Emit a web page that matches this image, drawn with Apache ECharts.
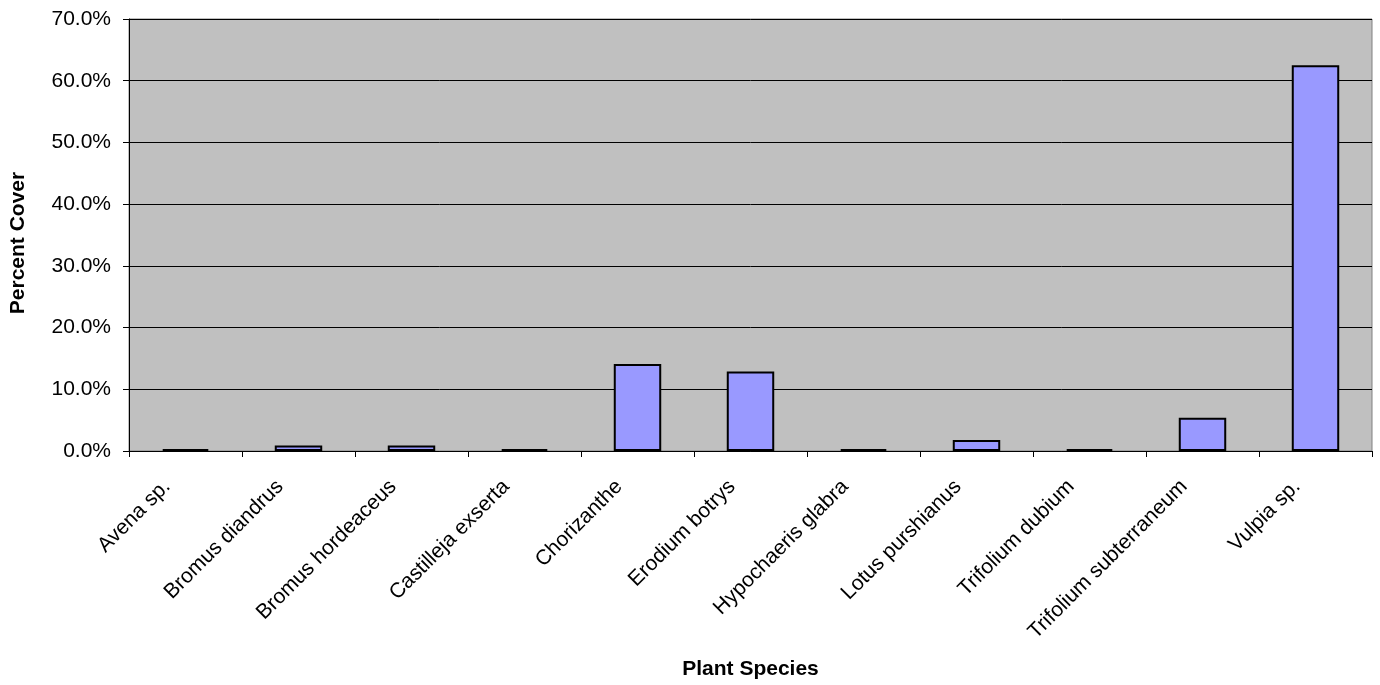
<!DOCTYPE html>
<html>
<head>
<meta charset="utf-8">
<title>Percent Cover by Plant Species</title>
<script src="https://cdn.jsdelivr.net/npm/echarts@6/dist/echarts.min.js"></script>
<style>
  html, body { margin: 0; padding: 0; background: #ffffff; }
  #chart { width: 1380px; height: 685px; }
</style>
</head>
<body>
<div id="chart"></div>
<script>
// Plant species along the x axis
const species = [
  'Avena sp.',
  'Bromus diandrus',
  'Bromus hordeaceus',
  'Castilleja exserta',
  'Chorizanthe',
  'Erodium botrys',
  'Hypochaeris glabra',
  'Lotus purshianus',
  'Trifolium dubium',
  'Trifolium subterraneum',
  'Vulpia sp.'
];

// Percent cover for each species
const percentCover = [0.3, 0.9, 0.9, 0.3, 14.1, 12.9, 0.3, 1.8, 0.3, 5.4, 62.5];

// Value axis range (percent)
const yMin = 0;
const yMax = 70;
const yStep = 10;

const font = '"Liberation Sans", Arial, Helvetica, sans-serif';

const chart = echarts.init(document.getElementById('chart'), null, { renderer: 'canvas' });

chart.setOption({
  animation: false,
  backgroundColor: '#ffffff',
  textStyle: { fontFamily: font },
  grid: {
    left: 124,
    right: 8,
    top: 19,
    bottom: 234,
    show: true,
    backgroundColor: '#c0c0c0',
    borderColor: '#808080',
    borderWidth: 1
  },
  xAxis: {
    type: 'category',
    data: species,
    name: 'Plant Species',
    nameLocation: 'middle',
    nameGap: 208,
    nameTextStyle: { fontFamily: font, fontWeight: 'bold', fontSize: 21, color: '#000' },
    axisLine: { show: true, lineStyle: { color: '#000', width: 1 } },
    axisTick: { show: true, alignWithLabel: false, length: 6, lineStyle: { color: '#000' } },
    axisLabel: {
      rotate: 45,
      interval: 0,
      margin: 14,
      // trailing padding pulls each slanted label back from its tick
      padding: [0, 26, 0, 0],
      fontFamily: font,
      fontSize: 21,
      color: '#000'
    },
    splitLine: { show: false }
  },
  yAxis: {
    type: 'value',
    min: yMin,
    max: yMax,
    interval: yStep,
    name: 'Percent Cover',
    nameLocation: 'middle',
    nameGap: 100,
    nameRotate: 90,
    nameTextStyle: {
      fontFamily: font,
      fontWeight: 'bold',
      fontSize: 21,
      color: '#000',
      padding: [0, 16, 0, 0]
    },
    axisLine: { show: true, lineStyle: { color: '#000', width: 1 } },
    axisTick: { show: true, length: 6, lineStyle: { color: '#000' } },
    axisLabel: {
      margin: 18,
      fontFamily: font,
      fontSize: 21,
      color: '#000',
      formatter: v => v.toFixed(1) + '%'
    },
    splitLine: { show: true, lineStyle: { color: '#000', width: 1 } }
  },
  series: [{
    type: 'bar',
    data: percentCover,
    barCategoryGap: '58%',
    itemStyle: {
      color: '#9999ff',
      borderColor: '#000',
      borderWidth: 2
    }
  }]
});
</script>
</body>
</html>
